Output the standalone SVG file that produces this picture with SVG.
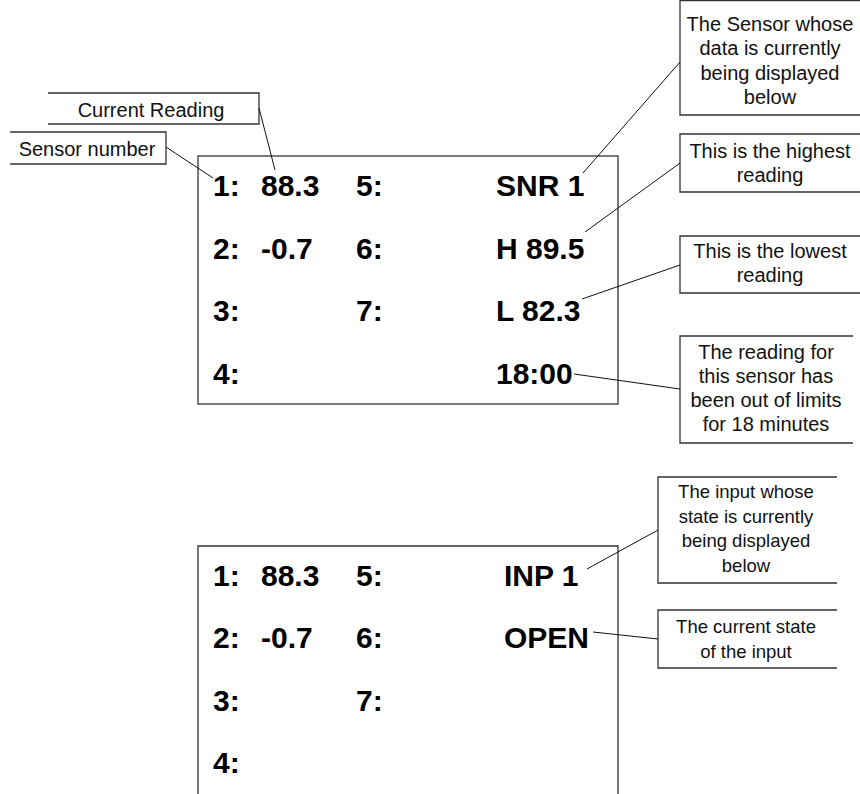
<svg xmlns="http://www.w3.org/2000/svg" width="860" height="794" viewBox="0 0 860 794">
<style>
.big{font-family:"Liberation Sans",Arial,sans-serif;font-weight:bold;font-size:30px;fill:#000}
.t{font-family:"Liberation Sans",Arial,sans-serif;font-size:20px;fill:#111;text-anchor:middle}
.s{font-family:"Liberation Sans",Arial,sans-serif;font-size:18.5px;fill:#111;text-anchor:middle}
.box{fill:none;stroke:#333;stroke-width:1.3}
.ln{fill:none;stroke:#111;stroke-width:1}
</style>
<rect width="860" height="794" fill="#fff"/>
<g id="display1">
<rect class="box" x="198" y="156" width="420" height="248"/>
<text class="big" x="213" y="196">1:</text><text class="big" x="261" y="196">88.3</text><text class="big" x="356" y="196">5:</text><text class="big" x="496" y="196">SNR 1</text>
<text class="big" x="213" y="259">2:</text><text class="big" x="261" y="259">-0.7</text><text class="big" x="356" y="259">6:</text><text class="big" x="496" y="259">H 89.5</text>
<text class="big" x="213" y="321">3:</text><text class="big" x="356" y="321">7:</text><text class="big" x="496" y="321">L 82.3</text>
<text class="big" x="213" y="384">4:</text><text class="big" x="496" y="384">18:00</text>
</g>
<g id="display2">
<path class="box" d="M198,800 V546 H618 V800"/>
<text class="big" x="213" y="586">1:</text><text class="big" x="261" y="586">88.3</text><text class="big" x="356" y="586">5:</text><text class="big" x="504" y="586">INP 1</text>
<text class="big" x="213" y="648">2:</text><text class="big" x="261" y="648">-0.7</text><text class="big" x="356" y="648">6:</text><text class="big" x="504" y="648">OPEN</text>
<text class="big" x="213" y="711">3:</text><text class="big" x="356" y="711">7:</text>
<text class="big" x="213" y="773">4:</text>
</g>
<g id="current-reading">
<path class="box" d="M48,93 H259 V124 H48"/>
<text class="t" x="151" y="117">Current Reading</text>
</g>
<g id="sensor-number">
<path class="box" d="M10,132 H166 V164 H10"/>
<text class="t" x="87" y="156">Sensor number</text>
</g>
<g id="sensor-shown">
<path class="box" d="M860,0.7 H680 V115 H860"/>
<text class="t" x="770" y="30.5">The Sensor whose</text>
<text class="t" x="770" y="55">data is currently</text>
<text class="t" x="770" y="79.5">being displayed</text>
<text class="t" x="770" y="104">below</text>
</g>
<g id="highest">
<path class="box" d="M860,134 H680 V192 H860"/>
<text class="t" x="770" y="158">This is the highest</text>
<text class="t" x="770" y="182">reading</text>
</g>
<g id="lowest">
<path class="box" d="M860,236 H680 V293 H860"/>
<text class="t" x="770" y="258">This is the lowest</text>
<text class="t" x="770" y="282">reading</text>
</g>
<g id="out-of-limits">
<path class="box" d="M853,336 H680 V443 H853"/>
<text class="t" x="766" y="359">The reading for</text>
<text class="t" x="766" y="383">this sensor has</text>
<text class="t" x="766" y="407">been out of limits</text>
<text class="t" x="766" y="431">for 18 minutes</text>
</g>
<g id="input-shown">
<path class="box" d="M837,477 H658 V583 H837"/>
<text class="s" x="746" y="498">The input whose</text>
<text class="s" x="746" y="522.5">state is currently</text>
<text class="s" x="746" y="547">being displayed</text>
<text class="s" x="746" y="571.5">below</text>
</g>
<g id="input-state">
<path class="box" d="M837,610 H658 V668 H837"/>
<text class="s" x="746" y="633">The current state</text>
<text class="s" x="746" y="658">of the input</text>
</g>
<g id="connectors">
<line class="ln" x1="259" y1="108" x2="275" y2="170"/>
<line class="ln" x1="166" y1="147" x2="213" y2="178"/>
<line class="ln" x1="680" y1="62" x2="583" y2="173"/>
<line class="ln" x1="680" y1="163" x2="585" y2="232"/>
<line class="ln" x1="680" y1="265" x2="582" y2="299"/>
<line class="ln" x1="680" y1="389" x2="574" y2="374"/>
<line class="ln" x1="658" y1="530" x2="587" y2="569"/>
<line class="ln" x1="593" y1="632" x2="658" y2="639"/>
</g>
</svg>
